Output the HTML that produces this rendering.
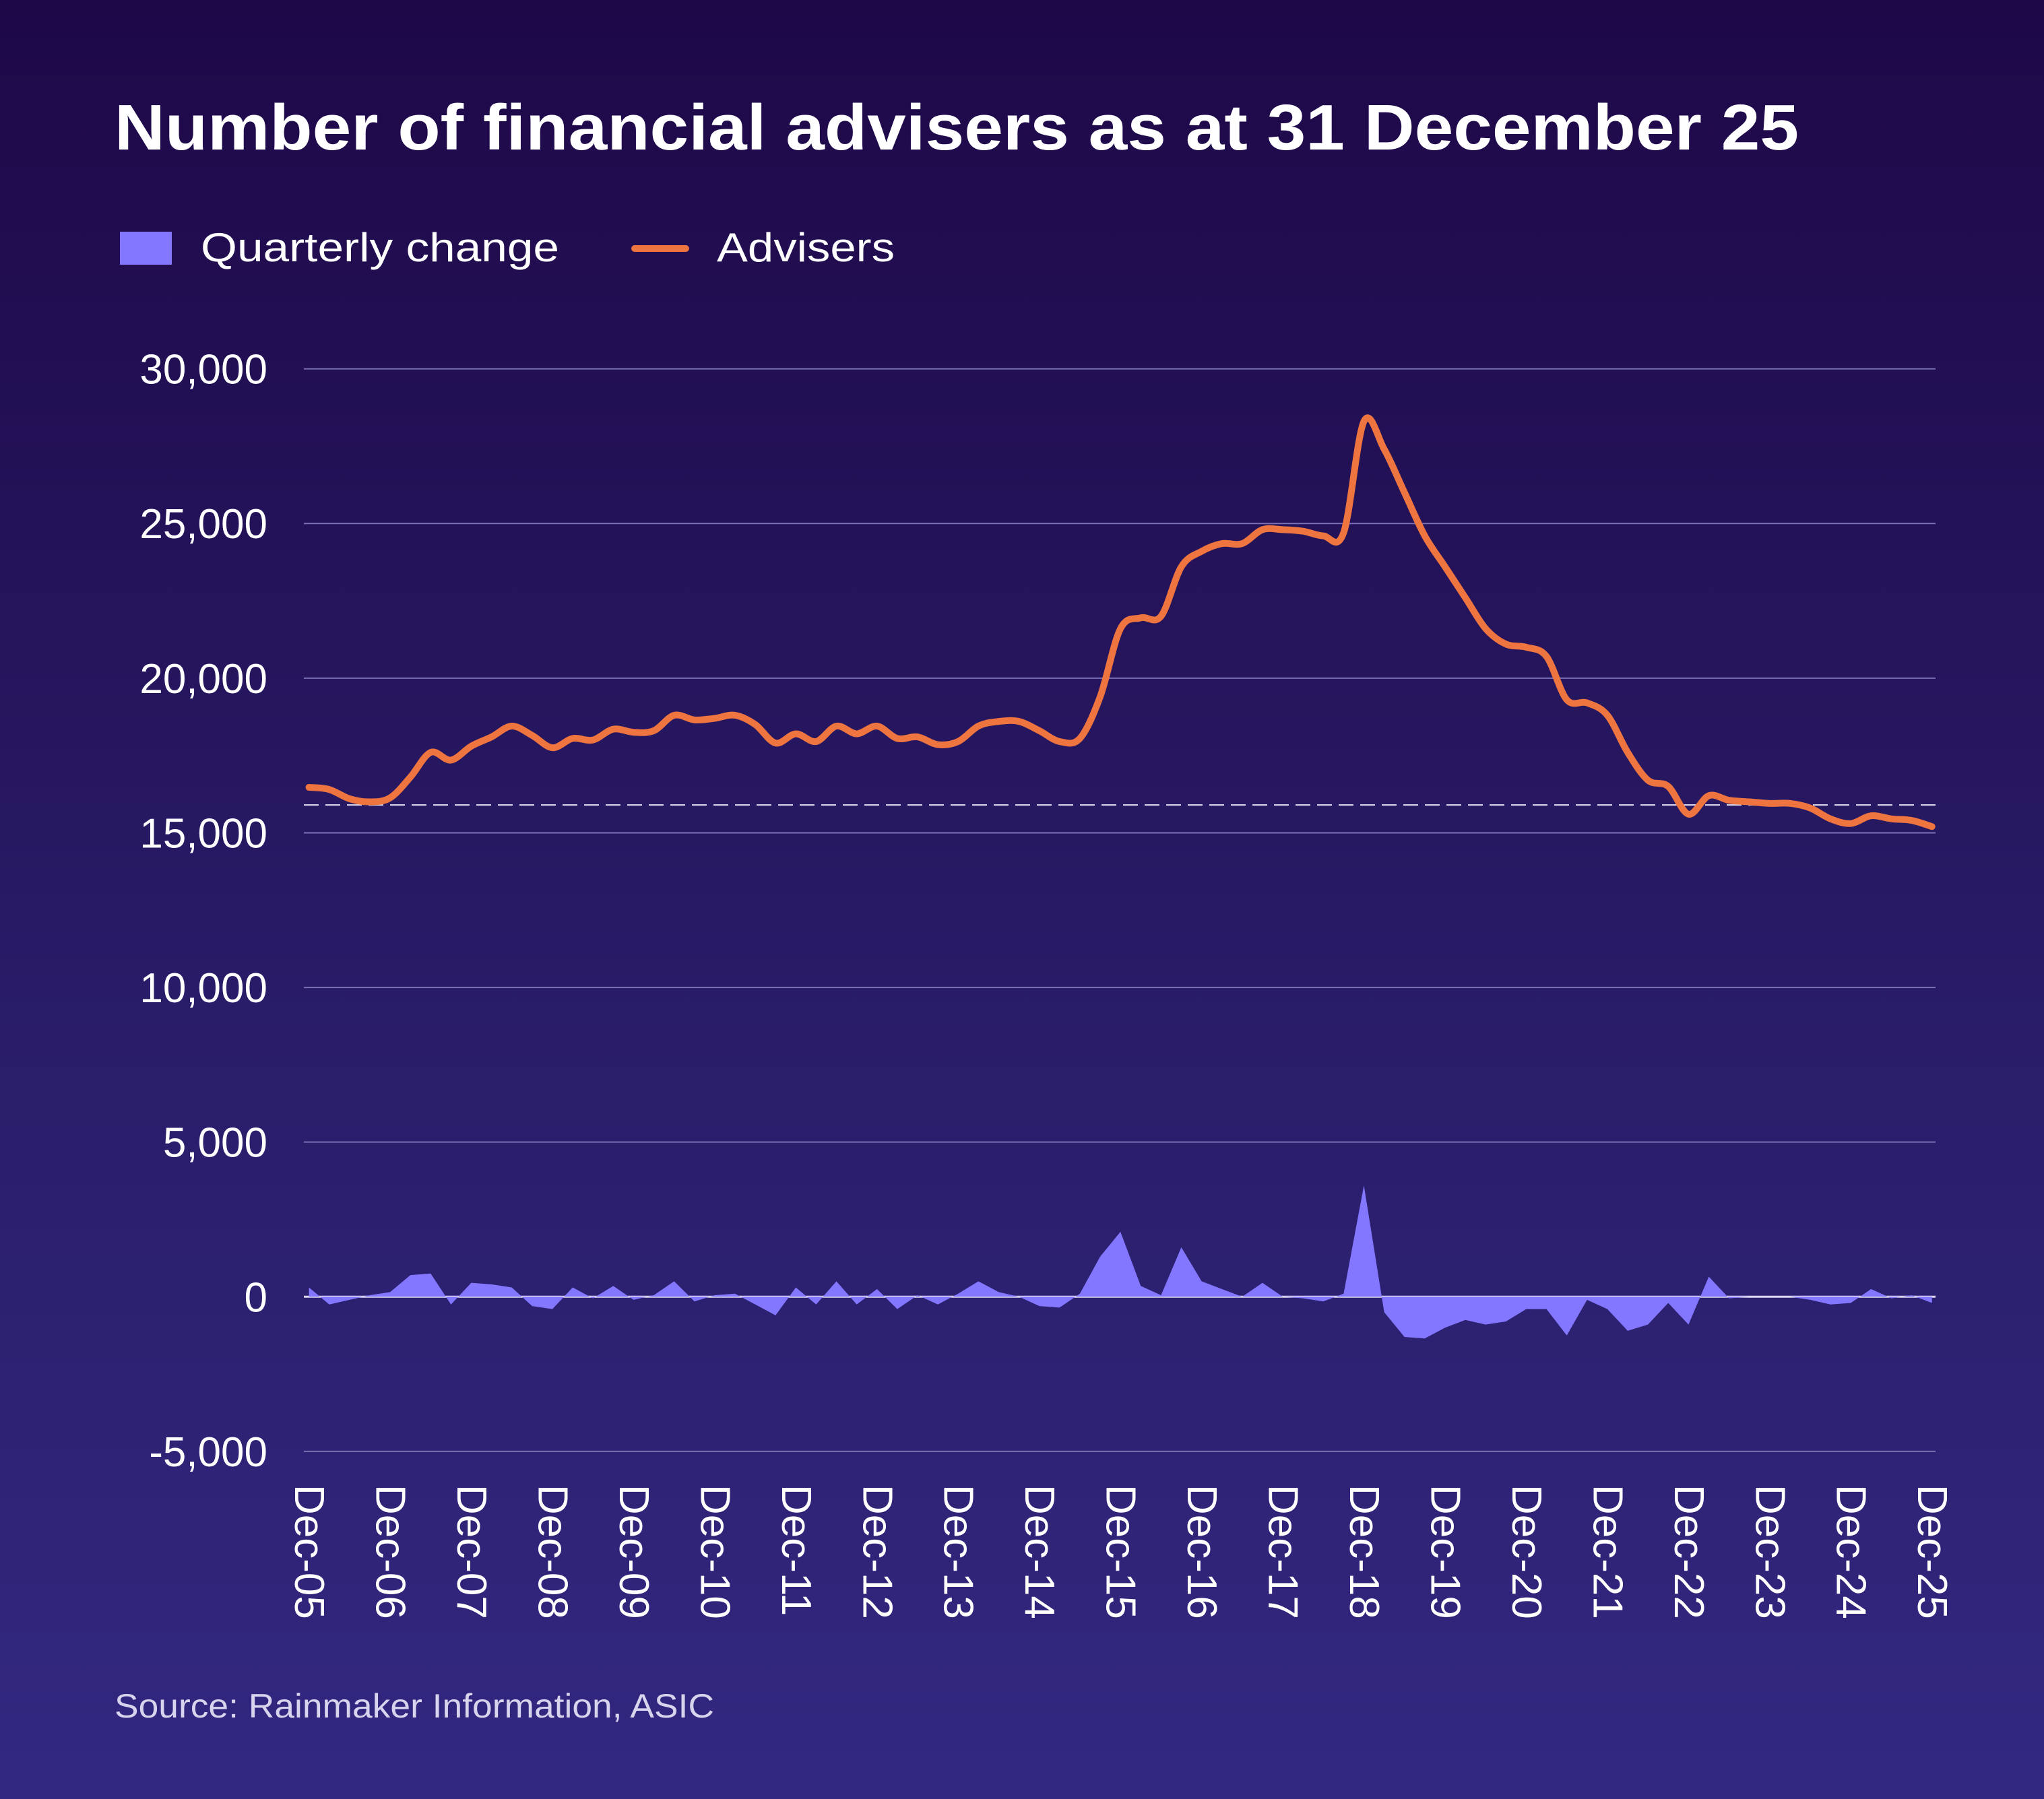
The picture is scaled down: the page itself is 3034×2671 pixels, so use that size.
<!DOCTYPE html>
<html><head><meta charset="utf-8"><style>
html,body{margin:0;padding:0;}
body{width:3034px;height:2671px;overflow:hidden;background:linear-gradient(#1e0848,#2a1d6a 60%,#322880);font-family:"Liberation Sans",sans-serif;}
svg{display:block}
</style></head><body>
<svg id="chart" width="3034" height="2671" xmlns="http://www.w3.org/2000/svg">
<text x="170" y="222" font-size="96" font-weight="bold" fill="#fff" textLength="2500" lengthAdjust="spacingAndGlyphs">Number of financial advisers as at 31 December 25</text>
<g>
<rect x="178" y="344" width="77" height="49" fill="#8377ff"/>
<text x="298" y="388" font-size="60" fill="#fff" textLength="532" lengthAdjust="spacingAndGlyphs">Quarterly change</text>
<line x1="942" y1="369" x2="1018" y2="369" stroke="#ee7440" stroke-width="10" stroke-linecap="round"/>
<text x="1064" y="388" font-size="60" fill="#fff" textLength="264" lengthAdjust="spacingAndGlyphs">Advisers</text>
</g>
<g id="grid"></g><g id="plot"></g><g id="xlabels"></g>
<text x="170" y="2550" font-size="50" fill="#d8d4ee" textLength="890" lengthAdjust="spacingAndGlyphs">Source: Rainmaker Information, ASIC</text>
</svg>
<script>
const yTicks=[-5000,0,5000,10000,15000,20000,25000,30000];
const yTickLabels=["-5,000","0","5,000","10,000","15,000","20,000","25,000","30,000"];
const xTickLabels=["Dec-05","Dec-06","Dec-07","Dec-08","Dec-09","Dec-10","Dec-11","Dec-12","Dec-13","Dec-14","Dec-15","Dec-16","Dec-17","Dec-18","Dec-19","Dec-20","Dec-21","Dec-22","Dec-23","Dec-24","Dec-25"];
const advisers=[16470,16400,16100,16000,16130,16800,17600,17350,17800,18100,18450,18150,17750,18050,18000,18350,18250,18300,18800,18650,18700,18800,18500,17900,18200,17950,18450,18200,18450,18050,18100,17850,17950,18450,18600,18600,18300,17950,18050,19400,21600,21950,22000,23600,24100,24350,24350,24800,24800,24750,24600,24700,28300,27400,26000,24600,23600,22600,21600,21100,21000,20700,19300,19200,18800,17600,16700,16500,15600,16200,16050,16000,15950,15950,15800,15450,15300,15550,15450,15400,15200];
const quarterlyChange=[300,-250,-100,50,150,700,750,-250,450,400,300,-300,-400,300,-50,350,-100,50,500,-150,50,100,-250,-600,300,-250,500,-250,250,-400,50,-250,100,500,150,0,-300,-350,100,1300,2100,350,50,1600,500,250,0,450,0,-50,-150,100,3600,-500,-1300,-1350,-1000,-750,-900,-800,-400,-400,-1250,-100,-400,-1100,-900,-200,-900,650,-50,0,0,0,-100,-250,-200,250,-50,50,-200];
const dashedRef=15900;
</script>
<script>
const NS="http://www.w3.org/2000/svg";
const X0=458.6,X1=2867.7,Y0=1925.3,YPER=(1925.3-547.6)/30000;
const n=81;
const xs=i=>X0+(X1-X0)*i/(n-1);
const ys=v=>Y0-v*YPER;
function mk(t,a,p){const e=document.createElementNS(NS,t);for(const k in a)e.setAttribute(k,a[k]);p.appendChild(e);return e;}
const grid=document.getElementById('grid'),plot=document.getElementById('plot'),xl=document.getElementById('xlabels');
yTicks.forEach((v,i)=>{
 const l=mk('line',{x1:451,x2:2873,y1:ys(v),y2:ys(v),stroke:v===0?'#ddd8f0':'#7b70b4','stroke-width':v===0?3:2},grid);
 
 
 const t=mk('text',{x:397,y:ys(v)+22,'font-size':62,fill:'#fff','text-anchor':'end'},grid);
 t.textContent=yTickLabels[i];
 
 
});
const dl=mk('line',{x1:451,x2:2873,y1:ys(dashedRef),y2:ys(dashedRef),stroke:'#e8e4f6','stroke-width':2,'stroke-dasharray':'22 10'},grid);


let d='M'+xs(0)+','+ys(0);
quarterlyChange.forEach((v,i)=>{d+=' L'+xs(i)+','+ys(v);});
d+=' L'+xs(quarterlyChange.length-1)+','+ys(0)+' Z';
const area=mk('path',{d:d,fill:'#8377ff'},plot);


const m=advisers.length;
const P=advisers.map((v,i)=>[xs(i),ys(v)]);
let ld='M'+P[0][0]+','+P[0][1];
for(let i=0;i<m-1;i++){
 const p0=P[Math.max(0,i-1)],p1=P[i],p2=P[i+1],p3=P[Math.min(m-1,i+2)];
 const c1=[p1[0]+(p2[0]-p0[0])/6,p1[1]+(p2[1]-p0[1])/6];
 const c2=[p2[0]-(p3[0]-p1[0])/6,p2[1]-(p3[1]-p1[1])/6];
 ld+=' C'+c1+' '+c2+' '+p2;
}
const line=mk('path',{d:ld,fill:'none',stroke:'#ee7440','stroke-width':10,'stroke-linejoin':'round','stroke-linecap':'round'},plot);


xTickLabels.forEach((s,i)=>{
 const x=xs(i*4);
 const t=mk('text',{x:0,y:0,'font-size':62,fill:'#fff','dominant-baseline':'central',transform:'translate('+x+',2204) rotate(90)'},xl);
 t.textContent=s;
 
 
});
</script>
</body></html>
